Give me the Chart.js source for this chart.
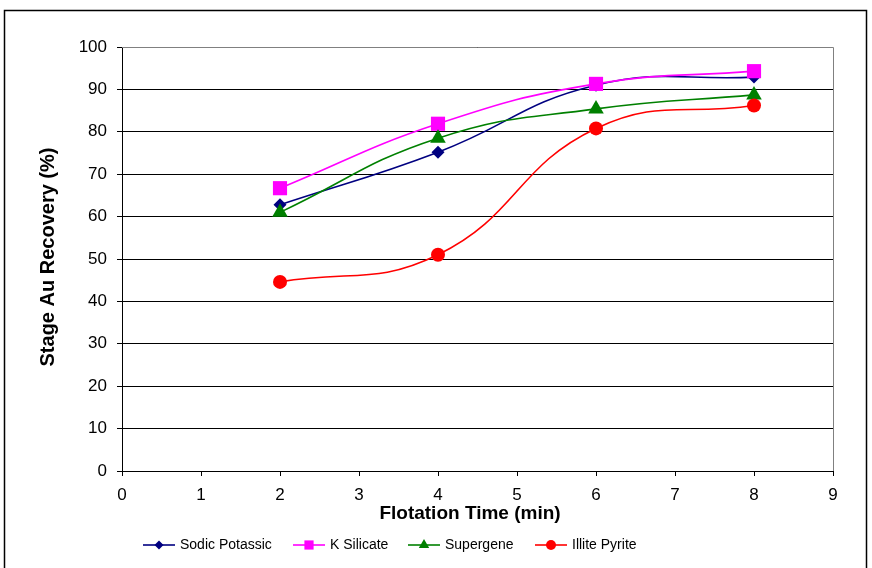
<!DOCTYPE html>
<html><head><meta charset="utf-8">
<script src="https://cdn.jsdelivr.net/npm/chart.js@4/dist/chart.umd.min.js"></script>
<style>html,body{margin:0;padding:0;background:#fff;}#wrap{width:872px;height:568px;position:relative;}</style>
</head><body><div id="wrap"><canvas id="c" width="872" height="568"></canvas></div>
<script>
const times = [2, 4, 6, 8];
const sodicPotassic = [62.8, 75.2, 91.0, 92.9];
const kSilicate = [66.7, 81.9, 91.3, 94.3];
const supergene = [61.0, 78.5, 85.4, 88.7];
const illitePyrite = [44.6, 51.0, 80.8, 86.2];
const seriesNames = ["Sodic Potassic", "K Silicate", "Supergene", "Illite Pyrite"];
const xTitle = "Flotation Time (min)";
const yTitle = "Stage Au Recovery (%)";
const seriesColors = ["#000080", "#FF00FF", "#008000", "#FF0000"];
const seriesMarkers = ["rectRot", "rect", "triangle", "circle"];
const seriesRadii = [6.5, 10, 9, 7];
const legendRadii = [4.5, 6.5, 6, 5];
const seriesValues = [sodicPotassic, kSilicate, supergene, illitePyrite];

const FONT = "'Liberation Sans', Arial, sans-serif";

const datasets = seriesValues.map((vals, i) => ({
  label: seriesNames[i],
  data: vals.map((v, j) => ({x: times[j], y: v})),
  borderColor: seriesColors[i],
  backgroundColor: seriesColors[i],
  pointStyle: seriesMarkers[i],
  pointRadius: seriesRadii[i],
  pointBorderWidth: 0,
  borderWidth: 1.6,
  tension: 0.45,
  order: 4 - i
}));

const framePlugin = {
  id: 'frame',
  beforeDraw(chart) {
    const ctx = chart.ctx;
    ctx.save();
    ctx.fillStyle = '#fff';
    ctx.fillRect(0, 0, chart.width, chart.height);
    ctx.strokeStyle = '#000';
    ctx.lineWidth = 1.5;
    ctx.strokeRect(4.5, 10.5, 862, 600);
    ctx.restore();
  },
  afterDraw(chart) {
    const ctx = chart.ctx;
    const a = chart.chartArea;
    ctx.save();
    ctx.strokeStyle = '#808080';
    ctx.lineWidth = 1;
    ctx.beginPath();
    ctx.moveTo(a.left, a.top + 0.5);
    ctx.lineTo(a.right + 0.5, a.top + 0.5);
    ctx.lineTo(a.right + 0.5, a.bottom);
    ctx.stroke();
    // axis titles
    ctx.fillStyle = '#000';
    ctx.textAlign = 'center';
    ctx.textBaseline = 'middle';
    ctx.font = 'bold 19px ' + FONT;
    ctx.fillText(xTitle, 470, 514);
    ctx.save();
    ctx.translate(48, 257);
    ctx.rotate(-Math.PI / 2);
    ctx.font = 'bold 20px ' + FONT;
    ctx.fillText(yTitle, 0, 0);
    ctx.restore();
    // legend
    const legendX = [143, 293, 408, 535];
    const ly = 545;
    ctx.font = '14px ' + FONT;
    ctx.textAlign = 'left';
    ctx.textBaseline = 'middle';
    for (let i = 0; i < seriesNames.length; i++) {
      const x0 = legendX[i];
      ctx.strokeStyle = seriesColors[i];
      ctx.lineWidth = 1.6;
      ctx.beginPath();
      ctx.moveTo(x0, ly);
      ctx.lineTo(x0 + 32, ly);
      ctx.stroke();
      ctx.fillStyle = seriesColors[i];
      Chart.helpers.drawPoint(ctx, {pointStyle: seriesMarkers[i], radius: legendRadii[i], borderWidth: 0}, x0 + 16, ly);
      ctx.fillStyle = '#000';
      ctx.fillText(seriesNames[i], x0 + 37, ly);
    }
    ctx.restore();
  }
};

new Chart(document.getElementById('c'), {
  type: 'line',
  data: { datasets },
  options: {
    responsive: false,
    animation: false,
    devicePixelRatio: 1,
    layout: { padding: { top: 47, right: 39, bottom: 0, left: 0 } },
    plugins: { legend: { display: false }, tooltip: { enabled: false } },
    scales: {
      x: {
        type: 'linear', min: 0, max: 9,
        ticks: { stepSize: 1, color: '#000', font: { family: FONT, size: 17 }, padding: 9 },
        grid: { drawOnChartArea: false, color: '#000', tickLength: 5 },
        border: { color: '#000', width: 1 },
        title: { display: false },
        afterFit(s) { s.height = 97; }
      },
      y: {
        min: 0, max: 100,
        ticks: { stepSize: 10, color: '#000', font: { family: FONT, size: 17 }, padding: 10 },
        grid: { color: '#000', tickLength: 5 },
        border: { color: '#000', width: 1 },
        title: { display: false },
        afterFit(s) { s.width = 122; }
      }
    }
  },
  plugins: [framePlugin]
});
</script></body></html>
